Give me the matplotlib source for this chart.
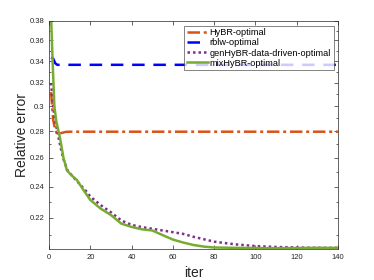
import matplotlib
matplotlib.use("Agg")
import matplotlib.pyplot as plt
from matplotlib.ticker import FixedLocator, FuncFormatter, NullFormatter

plt.rcParams['font.family'] = ['Liberation Sans', 'DejaVu Sans']

# values (log y axis)
it_hybr = [1, 2, 3, 4, 5, 6, 8, 10, 140]
err_hybr = [0.312, 0.289, 0.281, 0.2775, 0.2778, 0.2785, 0.2793, 0.2795, 0.2795]

it_rblw = [1, 2, 3, 4, 140]
err_rblw = [0.3435, 0.3425, 0.338, 0.3365, 0.3365]

it_gen = [1, 2, 3, 4, 5, 6, 7, 9, 12, 15, 18, 20, 25, 30, 35, 40, 45, 50, 55, 60,
          65, 70, 80, 90, 100, 110, 120, 130, 140]
err_gen = [0.320, 0.300, 0.288, 0.280, 0.272, 0.265, 0.259, 0.251, 0.246, 0.2415,
           0.2370, 0.2335, 0.2280, 0.2235, 0.2185, 0.2158, 0.2145, 0.2135, 0.2125,
           0.2115, 0.2105, 0.2088, 0.2060, 0.2045, 0.2035, 0.2030, 0.2027, 0.2025,
           0.2025]

it_mix = [1, 1.75, 2.6, 3.5, 4.6, 5.5, 7, 8.7, 11, 13.5, 16.8, 20, 25, 30, 35, 40,
          45, 50, 55, 60, 65, 70, 75, 80, 90, 100, 110, 120, 130, 140]
err_mix = [0.385, 0.340, 0.300, 0.288, 0.280, 0.2733, 0.260, 0.251, 0.2475, 0.2445,
           0.2375, 0.2313, 0.2258, 0.2218, 0.2166, 0.2146, 0.2132, 0.2125, 0.2098,
           0.2072, 0.2055, 0.2041, 0.2032, 0.2027, 0.2025, 0.2024, 0.2023, 0.2024,
           0.2025, 0.2025]

yticks = [0.22, 0.24, 0.26, 0.28, 0.30, 0.32, 0.34, 0.36, 0.38]
xticks = [0, 20, 40, 60, 80, 100, 120, 140]

gray = (0.15, 0.15, 0.15)

fig = plt.figure(figsize=(3.74, 2.8), dpi=100)
ax = fig.add_axes([0.131, 0.111, 0.773, 0.814])

ax.plot(it_hybr, err_hybr, color=(0.85, 0.325, 0.098), linestyle=(0, (5, 1.5, 1.2, 1.5)),
        linewidth=1.8, label="HyBR-optimal")
ax.plot(it_rblw, err_rblw, color=(0, 0, 1), linestyle=(0, (5, 3.5)),
        linewidth=1.8, label="rblw-optimal")
ax.plot(it_gen, err_gen, color=(0.494, 0.184, 0.556), linestyle=(0, (1, 1.2)),
        linewidth=1.8, label="genHyBR-data-driven-optimal")
ax.plot(it_mix, err_mix, color=(0.466, 0.674, 0.188), linestyle="-",
        linewidth=1.8, label="mixHyBR-optimal")

ax.set_yscale("log")
ax.set_xlim(0, 140)
ax.set_ylim(0.2019, 0.38)
ax.yaxis.set_major_locator(FixedLocator(yticks))
ax.yaxis.set_major_formatter(FuncFormatter(lambda v, p: "%g" % round(v, 2)))
ax.yaxis.set_minor_locator(FixedLocator([0.21, 0.23, 0.25, 0.27, 0.29, 0.31,
                                         0.33, 0.35, 0.37]))
ax.yaxis.set_minor_formatter(NullFormatter())
ax.xaxis.set_major_locator(FixedLocator(xticks))

ax.tick_params(which="both", direction="in", top=True, right=True,
               colors=gray, labelsize=5.5, width=0.5)
ax.tick_params(which="major", length=3)
ax.tick_params(which="minor", length=1.5)
for s in ax.spines.values():
    s.set_color(gray)
    s.set_linewidth(0.5)

ax.set_xlabel("iter", fontsize=10, color=gray, labelpad=4)
ax.set_ylabel("Relative error", fontsize=10, color=gray, labelpad=0)

leg = ax.legend(loc="upper right", fontsize=6.6, frameon=True, fancybox=False,
                borderpad=0.3, labelspacing=0.12, handlelength=2.3,
                handletextpad=0.15, borderaxespad=0.0, bbox_to_anchor=(0.985, 0.98))
leg.get_frame().set_edgecolor(gray)
leg.get_frame().set_linewidth(0.5)

fig.savefig("out.png", dpi=100)
